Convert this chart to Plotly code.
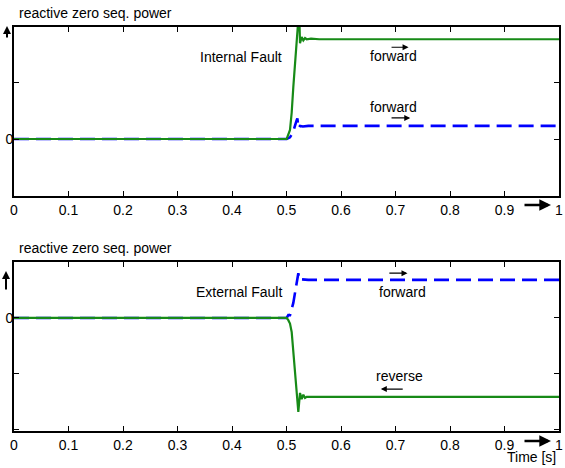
import plotly.graph_objects as go

# ---------------- data ----------------
# Internal fault (top panel)
t_int_green = [0.0, 0.5003, 0.5064, 0.5095, 0.5125, 0.5156, 0.5187, 0.5217, 0.5235, 0.5248,
               0.5278, 0.5309, 0.534, 0.537, 0.545, 0.56, 1.0]
v_int_green = [0.0, 0.0, 0.16, 0.46, 0.91, 1.39, 1.79, 2.1, 2.15, 1.68,
               1.79, 1.73, 1.77, 1.75, 1.76, 1.75, 1.75]
t_int_blue = [0.0, 0.5003, 0.5064, 0.512, 0.5187, 0.52, 0.5217, 0.5248, 0.53, 0.54, 1.0]
v_int_blue = [0.0, 0.0, 0.03, 0.12, 0.33, 0.36, 0.19, 0.23, 0.22, 0.23, 0.23]

# External fault (bottom panel)
t_ext_green = [0.0, 0.5003, 0.5033, 0.5064, 0.5095, 0.5125, 0.5156, 0.5187, 0.5217, 0.5248,
               0.5278, 0.5309, 0.534, 0.537, 0.545, 1.0]
v_ext_green = [0.0, 0.0, -0.04, -0.1, -0.25, -0.57, -0.98, -1.35, -1.68, -1.34,
               -1.45, -1.37, -1.43, -1.41, -1.41, -1.41]
t_ext_blue = [0.0, 0.5003, 0.5033, 0.5064, 0.5125, 0.5187, 0.5217, 0.5235, 0.528, 0.54, 1.0]
v_ext_blue = [0.0, 0.0, 0.05, 0.05, 0.27, 0.69, 0.80, 0.68, 0.69, 0.68, 0.68]

x_tick_vals = [0, 0.1, 0.2, 0.3, 0.4, 0.5, 0.6, 0.7, 0.8, 0.9, 1.0]
x_tick_text = ["0", "0.1", "0.2", "0.3", "0.4", "0.5", "0.6", "0.7", "0.8", "0.9", "1"]
y_tick_vals_top = [-1, 0, 1, 2]
y_tick_text_top = ["", "0", "", ""]
y_tick_vals_bot = [-2, -1, 0, 1]
y_tick_text_bot = ["", "", "0", ""]

# ---------------- figure ----------------
W, H = 565, 468
GREEN = "#178a17"
BLUE = "#0000ff"
FONT = "Liberation Sans, Arial, Helvetica, sans-serif"

def px_x(p):
    return p / W

def px_y(p):
    return 1 - p / H

fig = go.Figure()

dash = "15px,7px"
fig.add_trace(go.Scatter(x=t_int_blue, y=v_int_blue, mode="lines",
                         line=dict(color=BLUE, width=2.6, dash=dash),
                         xaxis="x", yaxis="y", showlegend=False))
fig.add_trace(go.Scatter(x=t_int_green, y=v_int_green, mode="lines",
                         line=dict(color=GREEN, width=2.2),
                         xaxis="x", yaxis="y", showlegend=False))
fig.add_trace(go.Scatter(x=t_ext_blue, y=v_ext_blue, mode="lines",
                         line=dict(color=BLUE, width=2.6, dash=dash),
                         xaxis="x2", yaxis="y2", showlegend=False))
fig.add_trace(go.Scatter(x=t_ext_green, y=v_ext_green, mode="lines",
                         line=dict(color=GREEN, width=2.2),
                         xaxis="x2", yaxis="y2", showlegend=False))

xdom = [px_x(14), px_x(559)]
common_x = dict(range=[0, 1], domain=xdom, tickvals=x_tick_vals, ticktext=x_tick_text,
                ticks="inside", ticklen=5, tickwidth=1, tickcolor="black",
                showline=True, linecolor="black", linewidth=1.6, mirror="allticks",
                showgrid=False, zeroline=False, automargin=False,
                tickfont=dict(family=FONT, size=14, color="black"))
common_y = dict(ticks="inside", ticklen=5, tickwidth=1, tickcolor="black",
                showline=True, linecolor="black", linewidth=1.6, mirror="allticks",
                showgrid=False, zeroline=False, automargin=False,
                ticklabelstandoff=-4,
                tickfont=dict(family=FONT, size=14, color="black"))

fig.update_layout(
    width=W, height=H,
    margin=dict(l=0, r=0, t=0, b=0),
    paper_bgcolor="white", plot_bgcolor="white",
    xaxis=dict(common_x, anchor="y"),
    yaxis=dict(common_y, range=[-1.0, 1.965], tickvals=y_tick_vals_top,
               ticktext=y_tick_text_top,
               domain=[px_y(196), px_y(27)], anchor="x"),
    xaxis2=dict(common_x, anchor="y2"),
    yaxis2=dict(common_y, range=[-2.02, 1.0], tickvals=y_tick_vals_bot,
                ticktext=y_tick_text_bot,
                domain=[px_y(431), px_y(262)], anchor="x2"),
    font=dict(family=FONT, size=14, color="black"),
)

ann = []
def text(x, y, s, xref="x", yref="y", size=14, xanchor="center"):
    ann.append(dict(x=x, y=y, xref=xref, yref=yref, text=s, showarrow=False,
                    xanchor=xanchor, yanchor="middle",
                    font=dict(family=FONT, size=size, color="black")))

def arrow(x0, y0, x1, y1, xref="x", yref="y", width=1.2, size=1.0, head=2):
    d = dict(x=x1, y=y1, xref=xref, yref=yref, text="", showarrow=True,
             arrowhead=head, arrowsize=size, arrowwidth=width, arrowcolor="black")
    if xref == "paper":
        d.update(ax=(x0 - x1) * W, ay=-(y0 - y1) * H, axref="pixel", ayref="pixel")
    else:
        d.update(ax=x0, ay=y0, axref=xref, ayref=yref)
    ann.append(d)

# titles
text(px_x(17), px_y(13), "reactive zero seq. power", "paper", "paper", 14, "left")
text(px_x(17), px_y(248), "reactive zero seq. power", "paper", "paper", 14, "left")

# top panel labels
text(0.417, 1.44, "Internal Fault")
text(0.697, 1.46, "forward")
arrow(0.690, 1.61, 0.724, 1.61)
text(0.697, 0.56, "forward")
arrow(0.690, 0.37, 0.727, 0.37)

# bottom panel labels
text(0.413, 0.46, "External Fault", "x2", "y2")
text(0.712, 0.46, "forward", "x2", "y2")
arrow(0.686, 0.80, 0.722, 0.80, "x2", "y2")
text(0.708, -1.04, "reverse", "x2", "y2")
arrow(0.716, -1.27, 0.673, -1.27, "x2", "y2")

# axis arrows (x)
arrow(px_x(523), px_y(205), px_x(551), px_y(205), "paper", "paper", width=2.6, size=0.9)
arrow(px_x(523), px_y(441), px_x(551), px_y(441), "paper", "paper", width=2.6, size=0.9)
# axis arrows (y)
arrow(px_x(7), px_y(39), px_x(7), px_y(26), "paper", "paper", width=2.0, size=0.8)
arrow(px_x(6), px_y(291), px_x(6), px_y(271), "paper", "paper", width=2.0, size=0.8)

text(px_x(558), px_y(457), "Time [s]", "paper", "paper", 14, "right")

fig.update_layout(annotations=ann)
fig.write_html(
    "out.html",
    config={"displayModeBar": False},
    post_script="document.body.style.margin='0';document.body.style.overflow='hidden';",
)
